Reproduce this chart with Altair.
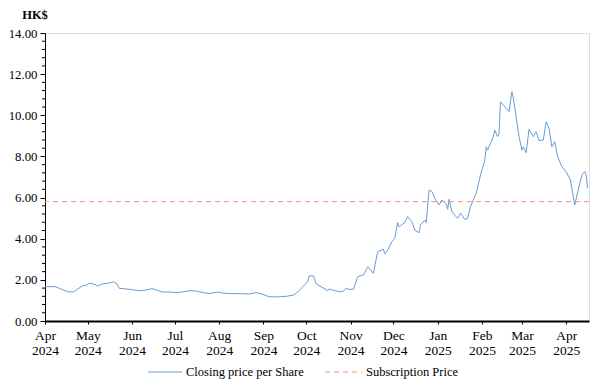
import altair as alt
import pandas as pd

# ---------------- data ----------------
dates = [
    "2024-04-01", "2024-04-02", "2024-04-08", "2024-04-11", "2024-04-17", "2024-04-21",
    "2024-04-23", "2024-04-27", "2024-04-30", "2024-05-02", "2024-05-05", "2024-05-08",
    "2024-05-11", "2024-05-15", "2024-05-19", "2024-05-21", "2024-05-23", "2024-05-30",
    "2024-06-06", "2024-06-11", "2024-06-15", "2024-06-18", "2024-06-22", "2024-06-27",
    "2024-07-02", "2024-07-06", "2024-07-11", "2024-07-16", "2024-07-20", "2024-07-25",
    "2024-07-31", "2024-08-04", "2024-08-10", "2024-08-16", "2024-08-22", "2024-08-27",
    "2024-08-31", "2024-09-05", "2024-09-10", "2024-09-17", "2024-09-22", "2024-09-25",
    "2024-09-28", "2024-10-02", "2024-10-03", "2024-10-06", "2024-10-08", "2024-10-12",
    "2024-10-16", "2024-10-17", "2024-10-21", "2024-10-25", "2024-10-27", "2024-10-29",
    "2024-10-31", "2024-11-03", "2024-11-06", "2024-11-10", "2024-11-11", "2024-11-13",
    "2024-11-15", "2024-11-17", "2024-11-20", "2024-11-24", "2024-11-25", "2024-11-27",
    "2024-11-30", "2024-12-02", "2024-12-04", "2024-12-05", "2024-12-09", "2024-12-11",
    "2024-12-14", "2024-12-16", "2024-12-19", "2024-12-20", "2024-12-23", "2024-12-24",
    "2024-12-26", "2024-12-28", "2024-12-30", "2025-01-02", "2025-01-04", "2025-01-07",
    "2025-01-08", "2025-01-09", "2025-01-11", "2025-01-15", "2025-01-17", "2025-01-20",
    "2025-01-22", "2025-01-24", "2025-01-27", "2025-01-28", "2025-01-31", "2025-02-03",
    "2025-02-04", "2025-02-05", "2025-02-07", "2025-02-09", "2025-02-10", "2025-02-12",
    "2025-02-13", "2025-02-14", "2025-02-16", "2025-02-18", "2025-02-20", "2025-02-22",
    "2025-02-23", "2025-02-25", "2025-02-27", "2025-03-01", "2025-03-02", "2025-03-04",
    "2025-03-06", "2025-03-09", "2025-03-11", "2025-03-13", "2025-03-16", "2025-03-18",
    "2025-03-20", "2025-03-22", "2025-03-24", "2025-03-26", "2025-03-29", "2025-04-01",
    "2025-04-04", "2025-04-07", "2025-04-10", "2025-04-12", "2025-04-14", "2025-04-15",
    "2025-04-16",
]
prices = [
    1.66, 1.67, 1.67, 1.59, 1.42, 1.42,
    1.51, 1.70, 1.75, 1.83, 1.80, 1.70,
    1.80, 1.83, 1.90, 1.83, 1.59, 1.54,
    1.47, 1.51, 1.57, 1.51, 1.41, 1.41,
    1.38, 1.41, 1.47, 1.46, 1.39, 1.33,
    1.41, 1.35, 1.33, 1.33, 1.31, 1.38,
    1.31, 1.18, 1.17, 1.20, 1.26, 1.41,
    1.62, 1.92, 2.19, 2.19, 1.80, 1.64,
    1.47, 1.56, 1.47, 1.42, 1.46, 1.59,
    1.54, 1.54, 2.15, 2.24, 2.35, 2.64,
    2.48, 2.32, 3.37, 3.49, 3.26, 3.45,
    3.86, 4.02, 4.78, 4.58, 4.79, 5.07,
    4.83, 4.42, 4.29, 4.67, 4.91, 4.78,
    6.37, 6.29, 5.96, 5.64, 5.88, 5.69,
    5.43, 5.92, 5.31, 4.99, 5.24, 4.94,
    4.99, 5.56, 6.04, 6.20, 7.10, 7.80,
    8.47, 8.31, 8.64, 8.96, 9.28, 8.96,
    9.12, 10.66, 10.50, 10.34, 10.18, 11.15,
    10.83, 9.93, 8.96, 8.31, 8.47, 8.18,
    9.32, 8.96, 9.20, 8.77, 8.80, 9.69,
    9.37, 8.47, 8.72, 7.99, 7.50, 7.26,
    6.85, 5.64, 6.53, 7.10, 7.26, 7.10,
    6.45,
]
subscription_price = [5.80]
y_major_ticks = [0, 2, 4, 6, 8, 10, 12, 14]
y_minor_ticks = [round(i * 0.4, 1) for i in range(36) if i % 5 != 0]
x_tick_months = [(2024, m) for m in range(4, 13)] + [(2025, m) for m in range(1, 5)]
x_domain = [(2024, 4, 1), (2025, 4, 17)]
unit_label = ["HK$"]
legend_labels = ["Closing price per Share", "Subscription Price"]

FONT = "Liberation Serif"
LINE_COLOR = "#6a9bd4"
DASH_COLOR = "#ec9479"

df = pd.DataFrame({"date": dates, "price": prices})

x_scale = alt.Scale(
    type="utc",
    domain=[alt.DateTime(year=y, month=m, date=d, utc=True) for (y, m, d) in x_domain],
)
y_scale = alt.Scale(domain=[0, 14], nice=False, zero=True)

x_axis = alt.Axis(
    values=[alt.DateTime(year=y, month=m, date=1, utc=True) for (y, m) in x_tick_months],
    labelExpr="[utcFormat(datum.value, '%b'), utcFormat(datum.value, '%Y')]",
    labelFont=FONT, labelFontSize=13.5, labelColor="black",
    labelLineHeight=15, labelPadding=4, labelFlush=False, labelOverlap=False,
    labelBaseline="top",
    domainColor="black", domainWidth=2,
    tickColor="black", tickSize=3, tickWidth=1,
    grid=False, title=None,
)
y_axis = alt.Axis(
    values=y_major_ticks,
    format=".2f",
    labelFont=FONT, labelFontSize=12.8, labelColor="black",
    labelPadding=3, labelOverlap=False,
    domainColor="black", domainWidth=1,
    tickColor="black", tickWidth=1, tickSize=5,
    grid=False, title=None,
)

price_line = alt.Chart(df).mark_line(color=LINE_COLOR, strokeWidth=1).encode(
    x=alt.X("date:T", scale=x_scale, axis=x_axis),
    y=alt.Y("price:Q", scale=y_scale, axis=y_axis),
)

sub_rule = alt.Chart(pd.DataFrame({"price": subscription_price})).mark_rule(
    color=DASH_COLOR, strokeWidth=1, strokeDash=[5, 4]
).encode(y=alt.Y("price:Q", scale=y_scale, axis=y_axis))

minor_ticks = alt.Chart(pd.DataFrame({"price": y_minor_ticks})).mark_rule(
    color="black", strokeWidth=1
).encode(
    y=alt.Y("price:Q", scale=y_scale, axis=y_axis),
    x=alt.value(-3), x2=alt.value(0),
)

unit_text = alt.Chart(pd.DataFrame({"t": unit_label})).mark_text(
    font=FONT, fontSize=12.5, fontWeight="bold", align="center", baseline="middle", color="black"
).encode(text="t:N", x=alt.value(-10), y=alt.value(-18))

# legend (drawn by hand below the plot)
leg_df1 = pd.DataFrame({"t": [legend_labels[0]]})
leg_df2 = pd.DataFrame({"t": [legend_labels[1]]})
LEG_Y = 339
leg_line1 = alt.Chart(leg_df1).mark_rule(color=LINE_COLOR, strokeWidth=1).encode(
    x=alt.value(103), x2=alt.value(137), y=alt.value(LEG_Y)
)
leg_text1 = alt.Chart(leg_df1).mark_text(
    font=FONT, fontSize=12.5, align="left", baseline="middle", color="black"
).encode(text="t:N", x=alt.value(141), y=alt.value(LEG_Y))
leg_line2 = alt.Chart(leg_df2).mark_rule(color=DASH_COLOR, strokeWidth=1, strokeDash=[5, 4]).encode(
    x=alt.value(280), x2=alt.value(317), y=alt.value(LEG_Y)
)
leg_text2 = alt.Chart(leg_df2).mark_text(
    font=FONT, fontSize=12.5, align="left", baseline="middle", color="black"
).encode(text="t:N", x=alt.value(321), y=alt.value(LEG_Y))

chart = alt.layer(
    price_line, sub_rule, minor_ticks, unit_text, leg_line1, leg_text1, leg_line2, leg_text2
).properties(
    width=544,
    height=288,
    autosize=alt.AutoSizeParams(type="none"),
    padding={"left": 37, "top": 25, "right": 4, "bottom": 58},
).configure_view(stroke=None).configure(background="white")

chart.save("out.html", embed_options={"renderer": "svg", "actions": False})
